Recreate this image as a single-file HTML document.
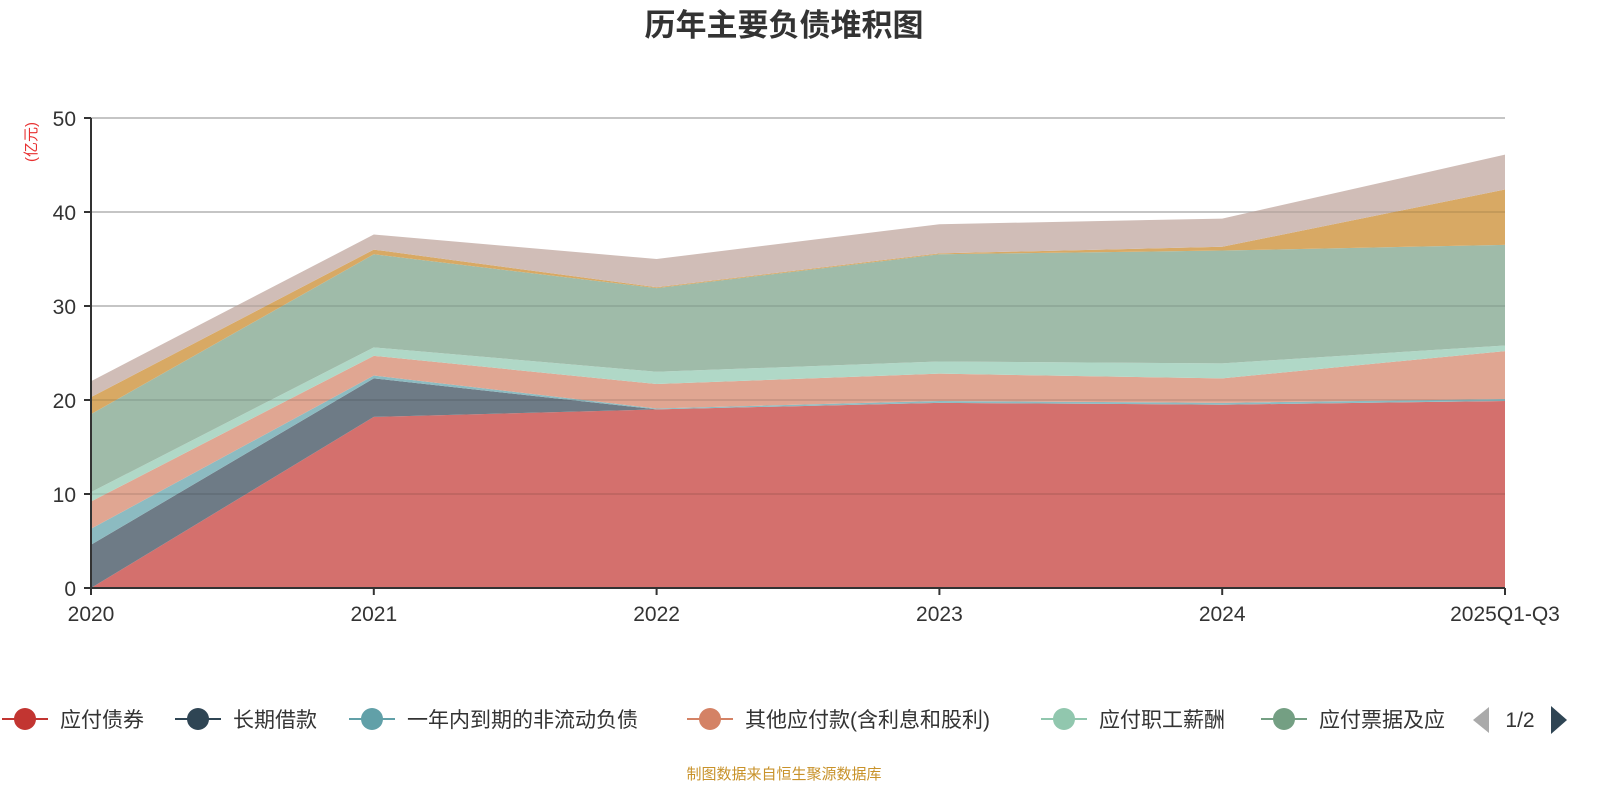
<!DOCTYPE html>
<html><head><meta charset="utf-8"><style>
body{margin:0;background:#fff;width:1600px;height:800px;overflow:hidden;font-family:"Liberation Sans","Noto Sans CJK SC",sans-serif}
</style></head><body>
<svg id="c" width="1600" height="800" xmlns="http://www.w3.org/2000/svg" style="font-family:'Liberation Sans','Noto Sans CJK SC',sans-serif">
<text x="784" y="36" text-anchor="middle" font-size="31" font-weight="bold" fill="#333">历年主要负债堆积图</text>
<text transform="translate(36,142) rotate(-90)" text-anchor="middle" font-size="15" fill="#e83030">(亿元)</text>
<g id="grid"></g><g id="areas"></g><g id="axes"></g><g id="legend"></g>
<text x="784" y="779" text-anchor="middle" font-size="15" fill="#c8922a">制图数据来自恒生聚源数据库</text>
</svg>
<script>
const categories=["2020","2021","2022","2023","2024","2025Q1-Q3"];
const seriesNames=["应付债券","长期借款","一年内到期的非流动负债","其他应付款(含利息和股利)","应付职工薪酬","应付票据及应付账款","合同负债","其他"];
const s1=[0,18.2,19.0,19.7,19.5,19.9];
const s2=[4.6,4.1,0,0,0,0];
const s3=[1.7,0.3,0.1,0.2,0.2,0.2];
const s4=[2.9,2.1,2.6,2.9,2.6,5.1];
const s5=[1.0,0.9,1.3,1.3,1.6,0.6];
const s6=[8.3,9.9,8.9,11.4,12.0,10.7];
const s7=[1.8,0.5,0.1,0.1,0.4,5.9];
const s8=[1.7,1.6,3.0,3.1,3.0,3.7];
const yTicks=[0,10,20,30,40,50];
const series=[s1,s2,s3,s4,s5,s6,s7,s8];
const fills=["#d4706d","#6e7b86","#8cbbc1","#e0a692","#b0d8c7","#9fbba9","#d8a964","#d0bdb7"];
const markers=["#c23531","#2f4554","#61a0a8","#d48265","#91c7ae","#749f83"];
const X0=91,X1=1505,Y0=588,Y1=118;
const x=i=>X0+i*(X1-X0)/(categories.length-1);
const y=v=>Y0-(v/50)*(Y0-Y1);
const NS="http://www.w3.org/2000/svg";
function mk(t,a,p){const e=document.createElementNS(NS,t);for(const k in a)e.setAttribute(k,a[k]);p.appendChild(e);return e;}
const grid=document.getElementById('grid'),areas=document.getElementById('areas'),axes=document.getElementById('axes'),leg=document.getElementById('legend');
yTicks.forEach(t=>{
 if(t>0){const g=mk('line',{x1:X0,x2:X1,y1:y(t),y2:y(t),stroke:'#ccc','stroke-width':1.5},grid);
 
 }
 const tk=mk('line',{x1:X0-7,x2:X0,y1:y(t),y2:y(t),stroke:'#333','stroke-width':2},axes);
 
 
 const l=mk('text',{x:X0-15,y:y(t)+8,'text-anchor':'end','font-size':21,fill:'#333'},axes);l.textContent=t;
 
 
});
let base=categories.map(()=>0);
series.forEach((s,k)=>{
 const top=base.map((b,i)=>b+s[i]);
 let d='M'+top.map((v,i)=>x(i)+','+y(v)).join('L');
 for(let i=categories.length-1;i>=0;i--)d+='L'+x(i)+','+y(base[i]);
 const p=mk('path',{d:d+'Z',fill:fills[k]},areas);
 
 
 base=top;
});
// redraw gridlines faintly on top (as in reference)
yTicks.forEach(t=>{if(t>0){const g=mk('line',{x1:X0,x2:X1,y1:y(t),y2:y(t),stroke:'rgba(0,0,0,0.12)','stroke-width':1.5},areas);
 
 }});
let a=mk('line',{x1:X0,x2:X0,y1:Y1,y2:Y0,stroke:'#333','stroke-width':2},axes);


a=mk('line',{x1:X0,x2:X1,y1:Y0,y2:Y0,stroke:'#333','stroke-width':2},axes);


categories.forEach((c,i)=>{
 const tk=mk('line',{x1:x(i),x2:x(i),y1:Y0,y2:Y0+7,stroke:'#333','stroke-width':2},axes);
 
 
 const l=mk('text',{x:x(i),y:621,'text-anchor':'middle','font-size':21,fill:'#333'},axes);l.textContent=c;
 
 
});
const lx=[25,198,372,710,1064,1284];
lx.forEach((cx,k)=>{
 const g=mk('g',{},leg);
 
 
 mk('line',{x1:cx-23,x2:cx+23,y1:719,y2:719,stroke:markers[k],'stroke-width':2},g);
 mk('circle',{cx:cx,cy:719,r:11,fill:markers[k]},g);
 const t=mk('text',{x:cx+35,y:727,'font-size':21,fill:'#333'},g);
 t.textContent=k==5?'应付票据及应':seriesNames[k];
});
let pg=mk('path',{d:'M1489,707L1473,720L1489,733Z',fill:'#aaa'},leg);


let pt=mk('text',{x:1520,y:727,'font-size':21,fill:'#333','text-anchor':'middle'},leg);pt.textContent='1/2';


pg=mk('path',{d:'M1551,706L1567,720L1551,734Z',fill:'#2f4554'},leg);


</script>
</body></html>
